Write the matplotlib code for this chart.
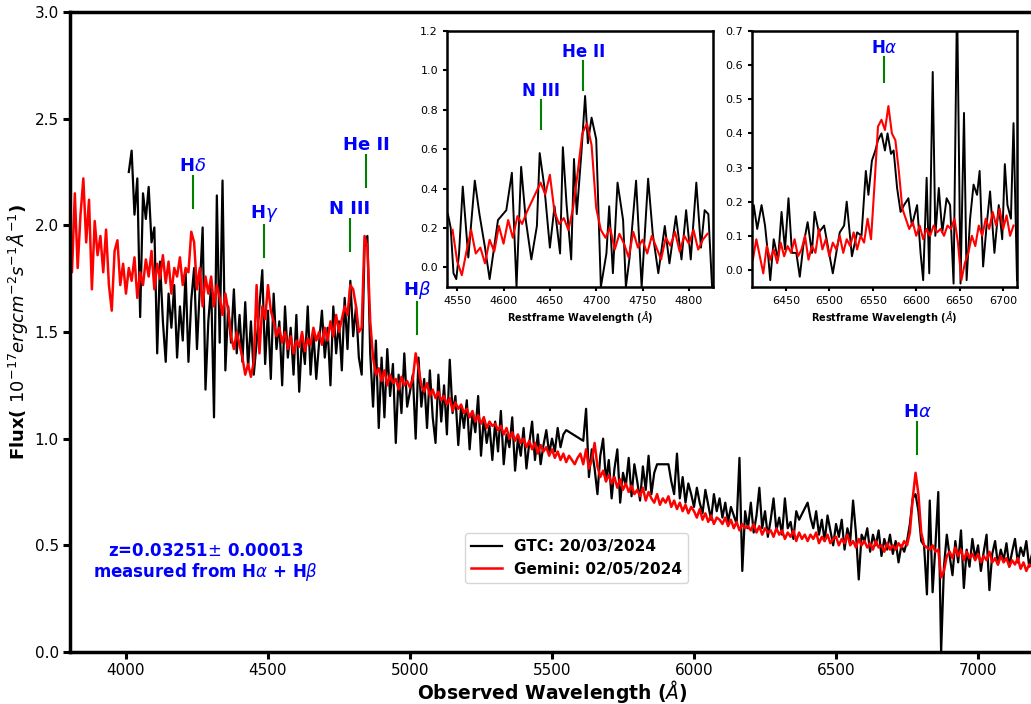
import numpy as np
import matplotlib
matplotlib.use("Agg")
import matplotlib.pyplot as plt

# ---------------- data ----------------
gem_wl_start, gem_wl_step = 3800, 10
gem_flux = [
    2.10, 1.78, 2.15, 1.80, 2.05, 2.22, 1.92, 2.12, 1.70, 2.02,
    1.86, 1.95, 1.78, 1.98, 1.72, 1.60, 1.88, 1.93, 1.72, 1.82,
    1.68, 1.80, 1.74, 1.85, 1.66, 1.78, 1.72, 1.84, 1.76, 1.88,
    1.70, 1.82, 1.75, 1.86, 1.73, 1.83, 1.68, 1.80, 1.76, 1.85,
    1.72, 1.80, 1.78, 1.97, 1.92, 1.70, 1.80, 1.62, 1.76, 1.68,
    1.76, 1.62, 1.72, 1.66, 1.58, 1.68, 1.60, 1.48, 1.42, 1.50,
    1.44, 1.38, 1.30, 1.35, 1.29, 1.36, 1.72, 1.40, 1.62, 1.56,
    1.72, 1.60, 1.55, 1.48, 1.52, 1.45, 1.50, 1.42, 1.48, 1.40,
    1.46, 1.43, 1.50, 1.41, 1.47, 1.44, 1.52, 1.46, 1.50, 1.44,
    1.52, 1.46, 1.55, 1.48, 1.58, 1.50, 1.56, 1.62, 1.58, 1.72,
    1.70, 1.62, 1.50, 1.52, 1.95, 1.90, 1.55, 1.38, 1.30, 1.33,
    1.27, 1.32, 1.25, 1.30, 1.26, 1.28, 1.23, 1.29, 1.25, 1.27,
    1.24, 1.28, 1.40, 1.33, 1.25, 1.22, 1.26, 1.20, 1.23, 1.19,
    1.22, 1.18, 1.20, 1.16, 1.19, 1.13, 1.17, 1.14, 1.16, 1.12,
    1.14, 1.10, 1.13, 1.08, 1.11, 1.07, 1.10, 1.05, 1.08, 1.06,
    1.07, 1.04, 1.06, 1.02, 1.05, 1.00, 1.03, 0.99, 1.02, 0.98,
    1.00, 0.96, 0.99, 0.95, 0.98, 0.93, 0.97, 0.94, 0.96, 0.92,
    0.95, 0.91, 0.94, 0.90, 0.93, 0.89, 0.92, 0.90, 0.88, 0.91,
    0.93, 0.88, 0.95, 0.86, 0.90, 0.98, 0.87, 0.82, 0.85, 0.80,
    0.83, 0.79, 0.82, 0.77, 0.81, 0.76, 0.79, 0.75, 0.78, 0.74,
    0.76, 0.73, 0.77, 0.71, 0.75, 0.72, 0.70, 0.74, 0.69, 0.72,
    0.70, 0.73, 0.68, 0.71, 0.67, 0.70, 0.66, 0.69, 0.65, 0.68,
    0.66, 0.63, 0.67, 0.62, 0.65, 0.61, 0.64, 0.60, 0.63, 0.62,
    0.60, 0.63, 0.59, 0.62, 0.58, 0.61, 0.57, 0.60, 0.58, 0.59,
    0.57, 0.60, 0.56, 0.59, 0.55, 0.58, 0.56, 0.57, 0.54, 0.58,
    0.55, 0.57, 0.53, 0.56, 0.54, 0.57, 0.52, 0.56, 0.53, 0.55,
    0.52, 0.55, 0.53, 0.56, 0.51, 0.54, 0.52, 0.55, 0.51, 0.53,
    0.54, 0.50, 0.53, 0.51, 0.55, 0.50, 0.52, 0.49, 0.53, 0.50,
    0.52, 0.49, 0.51, 0.48, 0.52, 0.49, 0.50, 0.47, 0.51, 0.48,
    0.50, 0.48, 0.51, 0.49, 0.52, 0.50, 0.56, 0.72, 0.84, 0.74,
    0.56, 0.50, 0.49, 0.48, 0.50, 0.47, 0.48, 0.35, 0.38, 0.45,
    0.47, 0.44, 0.49, 0.45, 0.48, 0.43, 0.47, 0.44, 0.46, 0.43,
    0.46, 0.42, 0.45, 0.43, 0.47, 0.42, 0.44, 0.41, 0.45, 0.42,
    0.44, 0.40, 0.43, 0.41, 0.44, 0.39, 0.42, 0.38, 0.41, 0.40,
]

# GTC spectrum: contiguous segments (first, last wavelength) with gaps between them
gtc_segments = [(4010, 5550), (5610, 5870), (5910, 6370), (6400, 7190)]
gtc_wl_step = 10
gtc_flux = [
    # 4010-5550
    2.25, 2.35, 2.05, 2.22, 1.57, 2.15, 2.03, 2.18, 1.92,
    1.99, 1.40, 1.83, 1.55, 1.36, 1.68, 1.52, 1.72, 1.38, 1.62,
    1.46, 1.78, 1.36, 1.65, 1.80, 1.42, 1.70, 1.99, 1.23, 1.55,
    1.72, 1.10, 2.14, 1.45, 2.21, 1.32, 1.62, 1.45, 1.70, 1.40,
    1.58, 1.36, 1.64, 1.33, 1.55, 1.30, 1.45, 1.62, 1.79, 1.35,
    1.60, 1.28, 1.68, 1.42, 1.55, 1.25, 1.62, 1.38, 1.52, 1.30,
    1.58, 1.22, 1.48, 1.35, 1.62, 1.30, 1.50, 1.28, 1.45, 1.60,
    1.38, 1.52, 1.25, 1.62, 1.40, 1.55, 1.32, 1.66, 1.42, 1.74,
    1.48, 1.62, 1.38, 1.30, 1.90, 1.95, 1.40, 1.15, 1.46, 1.05,
    1.38, 1.10, 1.42, 1.20, 1.35, 0.98, 1.30, 1.12, 1.40, 1.15,
    1.22, 1.30, 1.00, 1.38, 1.15, 1.28, 1.05, 1.32, 1.10, 0.98,
    1.30, 1.08, 1.25, 1.02, 1.37, 1.12, 1.20, 0.97, 1.15, 1.05,
    1.18, 0.95, 1.12, 1.03, 1.20, 0.92, 1.10, 0.98, 1.06, 0.90,
    1.08, 0.94, 1.13, 0.88, 1.02, 0.96, 1.10, 0.85, 1.00, 0.92,
    1.05, 0.86, 0.98, 1.08, 0.90, 1.02, 0.88, 0.97, 1.04, 0.93,
    1.00, 0.94, 1.05, 0.96, 1.02, 1.04,
    # 5610-5870
    0.99, 1.14, 0.82, 0.95, 0.86, 0.74, 0.92, 1.00, 0.80,
    0.90, 0.72, 0.86, 0.95, 0.70, 0.84, 0.78, 0.91, 0.73, 0.88,
    0.80, 0.71, 0.87, 0.76, 0.92, 0.74, 0.84, 0.88,
    # 5910-6370
    0.88, 0.80, 0.74, 0.93, 0.72, 0.82, 0.70, 0.79, 0.74,
    0.68, 0.77, 0.70, 0.65, 0.76, 0.69, 0.62, 0.74, 0.66, 0.72,
    0.63, 0.70, 0.61, 0.68, 0.64, 0.60, 0.91, 0.38, 0.66, 0.58,
    0.70, 0.56, 0.64, 0.77, 0.58, 0.66, 0.54, 0.62, 0.72, 0.57,
    0.63, 0.55, 0.72, 0.58, 0.61, 0.53, 0.66, 0.62,
    # 6400-7190
    0.70, 0.63, 0.58, 0.66, 0.55, 0.62, 0.52, 0.64, 0.57, 0.50,
    0.60, 0.54, 0.62, 0.48, 0.58, 0.52, 0.71, 0.56, 0.34, 0.55,
    0.52, 0.58, 0.47, 0.55, 0.50, 0.57, 0.45, 0.53, 0.48, 0.55,
    0.46, 0.52, 0.42, 0.50, 0.47, 0.52, 0.60, 0.72, 0.74, 0.66,
    0.52, 0.50, 0.27, 0.71, 0.28, 0.50, 0.75, 0.00, 0.40, 0.55,
    0.45, 0.36, 0.52, 0.42, 0.57, 0.30, 0.48, 0.40, 0.53, 0.44,
    0.50, 0.38, 0.47, 0.55, 0.29, 0.46, 0.52, 0.41, 0.48, 0.43,
    0.51, 0.40, 0.47, 0.53, 0.42, 0.49, 0.45, 0.52, 0.40, 0.46,
]

# Inset 1 (He II region, rest frame, continuum subtracted)
in1_gtc_wl = [4540, 4543, 4546, 4549, 4552, 4556, 4562, 4569, 4574, 4580,
              4585, 4594, 4603, 4609, 4614, 4619, 4624, 4630, 4636, 4639,
              4644, 4650, 4655, 4661, 4664, 4668, 4673, 4676, 4679, 4684,
              4688, 4691, 4695, 4700, 4705, 4711, 4714, 4718, 4723, 4729,
              4732, 4736, 4743, 4749, 4756, 4761, 4767, 4774, 4779, 4786,
              4792, 4797, 4802, 4808, 4813, 4817, 4821, 4825]
in1_gtc_flux = [0.27, 0.20, -0.03, -0.06, 0.07, 0.41, 0.05, 0.44, 0.27, 0.10,
                -0.06, 0.24, 0.29, 0.48, -0.10, 0.51, 0.24, 0.04, 0.21, 0.58,
                0.41, 0.10, 0.31, 0.07, 0.61, 0.32, 0.04, 0.55, 0.27, 0.58,
                0.87, 0.63, 0.76, 0.65, -0.10, 0.07, 0.31, -0.03, 0.43, 0.24,
                -0.10, 0.05, 0.44, -0.10, 0.45, 0.17, -0.03, 0.21, 0.02, 0.26,
                0.04, 0.29, 0.04, 0.43, 0.10, 0.29, 0.27, -0.10]
in1_gem_start, in1_gem_step = 4545, 5
in1_gem_flux = [0.19, 0.03, -0.04, 0.08, 0.19, 0.07, 0.10, 0.02, 0.14, 0.08,
                0.21, 0.12, 0.24, 0.15, 0.26, 0.22, 0.28, 0.33, 0.38, 0.43,
                0.37, 0.47, 0.28, 0.22, 0.25, 0.19, 0.30, 0.48, 0.68, 0.73,
                0.62, 0.30, 0.19, 0.15, 0.20, 0.09, 0.17, 0.12, 0.05, 0.18,
                0.10, 0.14, 0.07, 0.16, 0.10, 0.04, 0.15, 0.11, 0.18, 0.08,
                0.16, 0.12, 0.19, 0.09, 0.14, 0.17]

# Inset 2 (H-alpha region, rest frame)
in2_gtc_wl = [6410, 6413, 6417, 6422, 6426, 6430, 6432, 6436, 6441, 6445,
              6449, 6453, 6457, 6462, 6466, 6470, 6475, 6480, 6483, 6488,
              6494, 6499, 6504, 6508, 6512, 6517, 6520, 6526, 6532, 6537,
              6542, 6545, 6549, 6553, 6556, 6560, 6564, 6567, 6571, 6574,
              6578, 6582, 6586, 6591, 6595, 6601, 6605, 6608, 6612, 6615,
              6619, 6622, 6626, 6630, 6635, 6639, 6643, 6647, 6651, 6655,
              6658, 6662, 6666, 6670, 6673, 6677, 6681, 6685, 6690, 6695,
              6699, 6702, 6705, 6709, 6712, 6716]
in2_gtc_flux = [0.11, 0.19, 0.12, 0.19, 0.13, 0.03, -0.03, 0.09, 0.03, 0.17,
                0.06, 0.21, 0.05, 0.05, -0.02, 0.07, 0.14, 0.05, 0.17, 0.11,
                0.13, 0.06, -0.01, 0.05, 0.11, 0.13, 0.20, 0.04, 0.11, 0.10,
                0.29, 0.22, 0.32, 0.35, 0.38, 0.40, 0.35, 0.40, 0.34, 0.35,
                0.24, 0.17, 0.19, 0.21, 0.13, 0.19, 0.05, -0.03, 0.27, -0.01,
                0.58, 0.10, 0.24, 0.11, 0.21, 0.19, -0.04, 0.80, -0.04, 0.46,
                -0.03, 0.15, 0.25, 0.22, 0.29, 0.01, 0.13, 0.23, 0.05, 0.19,
                0.09, 0.31, 0.19, 0.15, 0.43, -0.03]
in2_gem_start, in2_gem_step = 6412, 4
in2_gem_flux = [0.03, 0.09, 0.04, -0.01, 0.07, 0.03, 0.06, 0.02, 0.08, 0.04,
                0.07, 0.05, 0.09, 0.04, 0.06, 0.10, 0.03, 0.07, 0.05, 0.12,
                0.06, 0.09, 0.04, 0.08, 0.06, 0.10, 0.05, 0.09, 0.07, 0.11,
                0.06, 0.10, 0.08, 0.15, 0.09, 0.25, 0.42, 0.44, 0.41, 0.48,
                0.40, 0.38, 0.29, 0.18, 0.15, 0.12, 0.14, 0.10, 0.13, 0.09,
                0.12, 0.10, 0.13, 0.11, 0.12, 0.10, 0.13, 0.12, 0.15, 0.08,
                -0.03, 0.02, 0.05, 0.10, 0.07, 0.13, 0.10, 0.15, 0.12, 0.17,
                0.13, 0.18, 0.12, 0.16, 0.10, 0.13]

# Line markers (labels, wavelengths, y position of the tick bottom)
main_lines = [("H$\\delta$", 4236, 2.08), ("H$\\gamma$", 4486, 1.85),
              ("N III", 4789, 1.88), ("He II", 4845, 2.18),
              ("H$\\beta$", 5025, 1.49), ("H$\\alpha$", 6785, 0.93)]
in1_lines = [("N III", 4640, 0.70), ("He II", 4686, 0.90)]
in2_lines = [("H$\\alpha$", 6563, 0.55)]

legend_labels = ["GTC: 20/03/2024", "Gemini: 02/05/2024"]
z_text = "z=0.03251$\\pm$ 0.00013\nmeasured from H$\\alpha$ + H$\\beta$"

# ---------------- build arrays ----------------
gem_wl = gem_wl_start + gem_wl_step * np.arange(len(gem_flux))
gtc_wl = np.concatenate([np.arange(a, b + 1, gtc_wl_step) for a, b in gtc_segments])
in1_gem_wl = in1_gem_start + in1_gem_step * np.arange(len(in1_gem_flux))
in2_gem_wl = in2_gem_start + in2_gem_step * np.arange(len(in2_gem_flux))

# ---------------- figure ----------------
W, H = 1031, 704
fig = plt.figure(figsize=(W / 100, H / 100), dpi=100)

def pos(l, t, r, b):
    return [l / W, 1 - b / H, (r - l) / W, (b - t) / H]

ax = fig.add_axes(pos(70, 12, 1034, 652))
ax.plot(gtc_wl, gtc_flux, color="black", lw=1.6, label=legend_labels[0])
ax.plot(gem_wl, gem_flux, color="red", lw=1.8, label=legend_labels[1])
ax.set_xlim(3803, 7197)
ax.set_ylim(0, 3.0)
ax.set_xticks([4000, 4500, 5000, 5500, 6000, 6500, 7000])
ax.set_yticks(np.arange(0, 3.01, 0.5))
ax.tick_params(labelsize=11, width=2.2, length=5, pad=3)
for s in ax.spines.values():
    s.set_linewidth(2.5)
ax.set_xlabel("Observed Wavelength ($\\AA$)", fontsize=13.5, fontweight="bold",
              labelpad=0)
ax.set_ylabel("Flux( $10^{-17} erg cm^{-2} s^{-1} \\AA^{-1}$)", fontsize=13,
              fontweight="bold", labelpad=3)

def mark(a, lines, length, gap, fs):
    for lab, w, yb in lines:
        a.plot([w, w], [yb, yb + length], color="green", lw=1.5)
        a.text(w, yb + length + gap, lab, color="blue", fontsize=fs,
               fontweight="bold", ha="center", va="bottom")

mark(ax, main_lines, 0.15, 0.005, 13)

ax.text(4280, 0.42, z_text, color="blue", fontsize=12, fontweight="bold",
        ha="center", va="center", linespacing=1.1)

leg = ax.legend(loc="upper left", bbox_to_anchor=(0.402, 0.198),
                prop={"weight": "bold", "size": 11}, handlelength=2.0,
                frameon=True, borderpad=0.4, labelspacing=0.5)

# inset 1
a1 = fig.add_axes(pos(447, 31, 713, 287))
a1.plot(in1_gtc_wl, in1_gtc_flux, color="black", lw=1.4)
a1.plot(in1_gem_wl, in1_gem_flux, color="red", lw=1.5)
a1.set_xlim(4539, 4826)
a1.set_ylim(-0.1, 1.2)
a1.set_xticks([4550, 4600, 4650, 4700, 4750, 4800])
a1.set_yticks(np.arange(0, 1.21, 0.2))
mark(a1, in1_lines, 0.15, 0.0, 12)

# inset 2
a2 = fig.add_axes(pos(752, 31, 1017, 287))
a2.plot(in2_gtc_wl, in2_gtc_flux, color="black", lw=1.4)
a2.plot(in2_gem_wl, in2_gem_flux, color="red", lw=1.5)
a2.set_xlim(6411, 6716)
a2.set_ylim(-0.05, 0.7)
a2.set_xticks([6450, 6500, 6550, 6600, 6650, 6700])
a2.set_yticks(np.arange(0, 0.71, 0.1))
mark(a2, in2_lines, 0.075, 0.0, 12)

for a in (a1, a2):
    a.tick_params(labelsize=8, width=1.5, length=3)
    for s in a.spines.values():
        s.set_linewidth(1.8)
    a.set_xlabel("Restframe Wavelength ($\\AA$)", fontsize=7, fontweight="bold",
                  labelpad=2)

fig.savefig("out.png", dpi=100)
